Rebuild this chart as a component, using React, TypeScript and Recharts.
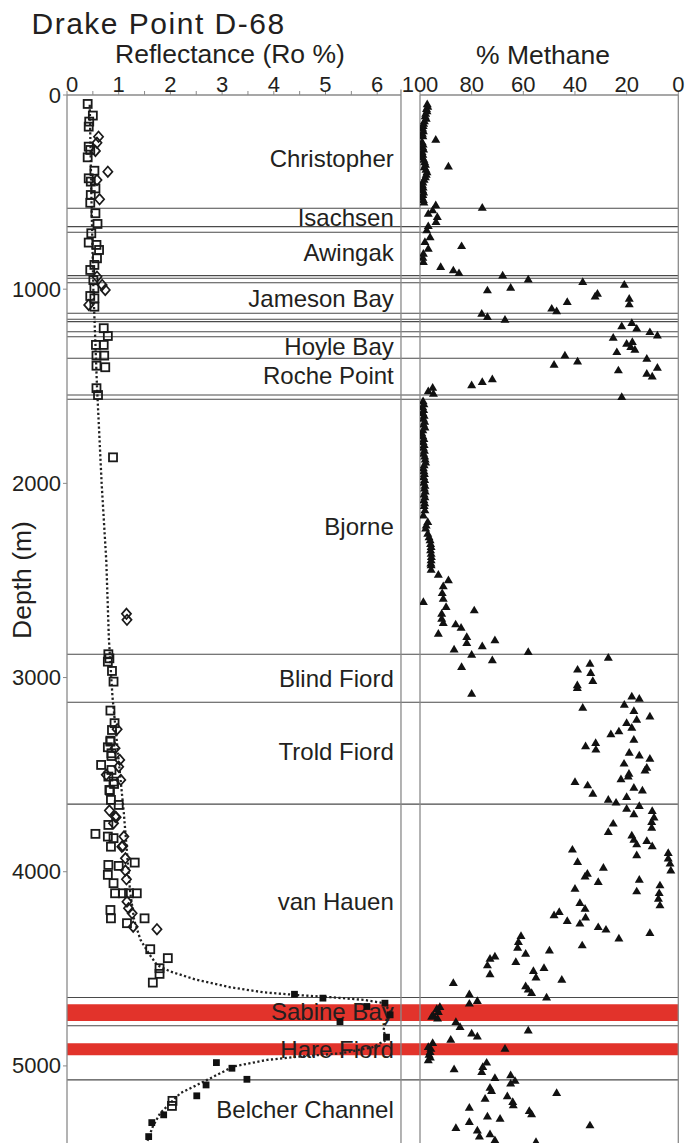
import React from 'react';
import { ScatterChart, Scatter, XAxis, YAxis, ReferenceLine, ReferenceArea } from 'recharts';

// ---------- data ----------
const depthTicks = [0, 1000, 2000, 3000, 4000, 5000];
const roTicks = [0, 0.5, 1, 1.5, 2, 2.5, 3, 3.5, 4, 4.5, 5, 5.5, 6];
const methaneTicks = [100, 80, 60, 40, 20, 0];

const formationNames = ['Christopher', 'Isachsen', 'Awingak', 'Jameson Bay', 'Hoyle Bay', 'Roche Point', 'Bjorne', 'Blind Fiord', 'Trold Fiord', 'van Hauen', 'Sabine Bay', 'Hare Fiord', 'Belcher Channel'];
const formationLabelDepths = [326, 630, 812, 1047, 1296, 1447, 2224, 3007, 3383, 4154, 4720, 4918, 5223];
const boundaryDepths = [583, 678, 707, 930, 944, 967, 1124, 1155, 1167, 1219, 1245, 1356, 1545, 1567, 2880, 3127, 3652, 4648, 4793, 5072];
const redBands: [number, number][] = [[4682, 4769], [4883, 4945]];

// [depth m, Ro %]
const roOpenSquares: [number, number][] = [
  [46, 0.40], [106, 0.50], [137, 0.43], [163, 0.42], [266, 0.42], [283, 0.45], [321, 0.40], [390, 0.53], [429, 0.42], [446, 0.46],
  [481, 0.55], [515, 0.46], [555, 0.45], [609, 0.55], [664, 0.59], [712, 0.47], [760, 0.42], [772, 0.57], [798, 0.62], [841, 0.58],
  [875, 0.53], [901, 0.45], [953, 0.51], [995, 0.53], [1035, 0.45], [1047, 0.53], [1090, 0.53], [1201, 0.71], [1241, 0.79], [1287, 0.56],
  [1287, 0.71], [1342, 0.57], [1342, 0.72], [1394, 0.57], [1402, 0.74], [1510, 0.57], [1545, 0.60], [1866, 0.89],
  [2880, 0.80], [2901, 0.82], [2918, 0.79], [2966, 0.87], [3021, 0.90], [3170, 0.84], [3235, 0.92], [3270, 0.87], [3325, 0.84], [3330, 0.84],
  [3359, 0.79], [3390, 0.86], [3404, 0.86], [3450, 0.66], [3476, 0.86], [3510, 0.80], [3536, 0.90], [3548, 0.91], [3579, 0.82], [3582, 0.83],
  [3630, 0.85], [3656, 1.00], [3759, 0.80], [3805, 0.55], [3819, 0.79], [3827, 0.90], [3871, 0.85], [3953, 1.31], [3965, 0.80], [3970, 1.00],
  [4016, 0.79], [4059, 0.90], [4111, 0.93], [4111, 1.08], [4111, 1.20], [4111, 1.35], [4197, 0.84], [4240, 0.85], [4265, 1.16], [4240, 1.50],
  [4399, 1.61], [4445, 1.95], [4497, 1.79], [4526, 1.79], [4571, 1.66], [5180, 2.04], [5206, 2.03],
];
const roDiamonds: [number, number][] = [
  [215, 0.61], [246, 0.58], [288, 0.55], [395, 0.79], [438, 0.58], [537, 0.63], [936, 0.58], [978, 0.68], [1004, 0.74], [1081, 0.42],
  [2672, 1.15], [2703, 1.16], [3266, 0.97], [3364, 0.93], [3424, 1.02], [3459, 1.00], [3501, 0.76], [3527, 1.04], [3685, 0.82], [3716, 0.93],
  [3719, 0.95], [3750, 0.90], [3819, 1.10], [3867, 1.08], [3871, 1.06], [3931, 1.13], [3994, 1.13], [4039, 1.15], [4154, 1.16], [4188, 1.19],
  [4214, 1.26], [4283, 1.28], [4296, 1.74],
];
const roFilledSquares: [number, number][] = [
  [4631, 4.40], [4651, 4.95], [4677, 6.15], [4694, 5.80], [4737, 6.25], [4772, 5.28], [4852, 6.18], [4983, 2.89], [5012, 3.19], [5069, 3.48],
  [5098, 2.69], [5154, 2.51], [5252, 1.87], [5292, 1.64], [5364, 1.58],
];
const roTrend: [number, number][] = [
  [50, 0.44], [500, 0.47], [1000, 0.51], [1500, 0.58], [2000, 0.67], [2400, 0.76], [2800, 0.81], [3100, 0.88], [3400, 0.99], [3700, 1.10],
  [3900, 1.16], [4100, 1.22], [4250, 1.30], [4350, 1.42], [4420, 1.58], [4480, 1.74], [4514, 2.0], [4557, 2.51], [4595, 3.16], [4621, 3.80],
  [4635, 4.45], [4646, 5.09], [4660, 5.74], [4677, 6.13], [4720, 6.25], [4763, 6.18], [4815, 6.12], [4866, 6.18], [4905, 5.9], [4935, 5.3],
  [4952, 4.5], [4969, 3.87], [5003, 3.22], [5072, 2.71], [5141, 2.19], [5244, 1.80], [5312, 1.66], [5390, 1.55],
];
// [depth m, % methane]
const methane: [number, number][] = [
  [45, 97.2], [58, 97.0], [70, 97.5], [82, 97.3], [95, 97.8], [108, 98.0], [120, 97.6], [133, 98.3], [146, 98.6], [158, 98.8], [171, 99.0],
  [184, 98.7], [197, 99.1], [210, 98.9], [228, 93.9], [240, 99.2], [253, 98.8], [266, 99.0], [279, 98.6], [292, 99.2], [305, 98.9], [318, 99.1],
  [331, 98.5], [344, 98.2], [357, 97.9], [366, 89.0], [370, 98.3], [383, 97.7], [396, 97.3], [409, 97.6], [422, 97.9], [435, 98.4], [448, 98.9],
  [461, 99.1], [474, 98.8], [487, 99.0], [500, 98.6], [513, 98.9], [526, 99.2], [539, 98.7], [552, 98.5], [566, 93.9], [578, 75.9], [592, 95.1],
  [609, 96.8], [626, 93.3], [652, 93.8], [673, 96.8], [695, 97.4], [730, 96.1], [755, 98.1], [776, 83.9], [790, 96.8], [815, 98.7], [836, 98.9],
  [858, 98.7], [884, 92.0], [901, 87.1], [915, 84.9], [927, 68.0], [948, 58.1], [961, 37.0], [975, 20.9], [990, 64.9], [1004, 73.9], [1021, 31.3],
  [1035, 32.2], [1047, 19.0], [1064, 43.0], [1076, 19.0], [1098, 49.0], [1111, 47.1], [1124, 76.1], [1141, 73.9], [1155, 67.1], [1172, 18.0],
  [1189, 21.9], [1201, 16.1], [1219, 11.0], [1236, 8.1], [1248, 25.2], [1270, 17.8], [1279, 20.0], [1296, 18.4], [1310, 16.8], [1322, 23.8],
  [1339, 43.9], [1356, 12.2], [1370, 39.0], [1387, 48.1], [1402, 8.1], [1416, 23.2], [1433, 12.2], [1447, 10.1], [1462, 72.0], [1476, 75.9],
  [1493, 80.0], [1505, 95.1], [1523, 96.8], [1536, 94.8], [1553, 21.9],
  [1575, 98.8], [1590, 98.5], [1605, 99.0], [1620, 98.6], [1635, 98.9], [1650, 98.4], [1665, 98.7], [1680, 98.2], [1695, 98.6], [1710, 98.1],
  [1725, 98.9], [1740, 99.3], [1755, 98.9], [1770, 98.5], [1785, 98.8], [1800, 98.4], [1815, 98.7], [1830, 98.3], [1845, 98.6], [1860, 98.2],
  [1875, 98.0], [1891, 97.8], [1905, 98.4], [1920, 98.7], [1935, 98.5], [1950, 98.3], [1965, 98.6], [1980, 98.2], [1995, 98.5], [2010, 98.1],
  [2025, 98.3], [2040, 98.0], [2055, 98.4], [2070, 98.1], [2085, 98.5], [2100, 98.2], [2115, 98.4], [2137, 98.1], [2163, 98.7], [2197, 97.0],
  [2215, 97.6], [2231, 97.8], [2257, 97.0], [2275, 96.5], [2291, 96.1], [2310, 95.9], [2326, 95.7], [2343, 95.9], [2360, 95.7], [2377, 95.6],
  [2394, 95.7], [2410, 95.8], [2420, 95.7], [2443, 95.7],
  [2468, 92.9], [2497, 89.0], [2528, 91.0], [2563, 91.4], [2592, 91.0], [2609, 98.7], [2635, 89.9], [2652, 79.0], [2669, 91.6], [2695, 91.6],
  [2717, 91.0], [2724, 86.2], [2741, 84.1], [2772, 92.9], [2789, 81.9], [2806, 71.0], [2820, 81.9], [2837, 75.9], [2853, 86.8], [2866, 58.1],
  [2880, 80.0], [2896, 27.1], [2909, 72.0], [2927, 34.2], [2944, 83.9], [2957, 39.0], [2974, 33.9], [3016, 33.1], [3038, 39.1], [3052, 39.1],
  [3081, 80.0], [3095, 18.0], [3107, 15.1], [3138, 20.9], [3153, 37.0], [3170, 17.2], [3198, 11.0], [3215, 16.1], [3232, 20.0], [3256, 18.0],
  [3275, 23.0], [3290, 26.1], [3318, 17.2], [3335, 32.0], [3352, 35.9], [3369, 31.9], [3385, 19.0], [3399, 15.1], [3416, 11.0], [3441, 21.0],
  [3462, 12.2], [3476, 12.9], [3493, 19.1], [3507, 19.4], [3522, 22.2], [3536, 40.0], [3553, 35.1], [3565, 17.2], [3579, 13.9], [3596, 33.1],
  [3613, 20.0], [3627, 27.1], [3642, 24.1], [3659, 15.1], [3673, 20.0], [3685, 10.1], [3702, 17.2], [3719, 9.4], [3742, 10.3], [3750, 25.2],
  [3771, 10.3], [3793, 27.1], [3811, 18.0], [3833, 17.2], [3840, 12.2], [3857, 16.1], [3867, 10.1], [3884, 41.0], [3901, 3.9], [3913, 16.1],
  [3930, 3.9], [3948, 39.0], [3956, 3.2], [3977, 29.0], [3991, 2.9], [4008, 35.2], [4022, 36.1], [4039, 15.1], [4051, 31.0], [4068, 7.1],
  [4085, 40.0], [4099, 16.1], [4108, 7.4], [4137, 7.7], [4159, 38.1], [4171, 7.1], [4188, 36.1], [4205, 46.1], [4222, 48.1], [4234, 35.9],
  [4252, 43.0], [4265, 38.1], [4283, 31.0], [4296, 28.0], [4313, 11.0], [4329, 60.9], [4342, 23.0], [4360, 61.9], [4377, 37.2], [4389, 62.2],
  [4403, 49.9], [4420, 59.1], [4434, 71.0], [4446, 72.9], [4463, 62.9], [4480, 73.9], [4494, 52.0], [4509, 56.1], [4526, 72.9], [4543, 55.1],
  [4554, 45.1], [4571, 87.1], [4588, 59.1], [4605, 58.1], [4622, 56.8], [4629, 80.9], [4646, 51.0], [4664, 77.8], [4677, 80.9], [4694, 92.3],
  [4705, 93.5], [4720, 92.9], [4737, 94.9], [4745, 95.5], [4754, 93.2], [4772, 86.1], [4797, 84.5], [4815, 58.1], [4831, 80.0], [4846, 77.8],
  [4863, 88.1], [4880, 95.1], [4900, 96.8], [4909, 67.1], [4910, 95.8], [4926, 96.1], [4940, 96.5], [4955, 96.0], [4969, 96.8], [4981, 74.2],
  [5003, 75.7], [5015, 86.8], [5029, 76.1], [5046, 64.9], [5060, 71.0], [5075, 63.2], [5089, 64.9], [5110, 72.9], [5127, 72.3], [5137, 47.1],
  [5154, 66.2], [5167, 74.8], [5184, 64.1], [5201, 63.9], [5213, 80.9], [5230, 57.7], [5247, 56.8], [5258, 73.9], [5270, 69.0], [5287, 80.9],
  [5304, 34.2], [5318, 86.1], [5330, 77.8], [5350, 72.9], [5361, 77.0], [5381, 71.0], [5390, 55.1],
];

// ---------- layout constants ----------
const W = 689;
const H = 1143;
const DEPTH_MAX = 5397;
const RO_MAX = 11.824; // Ro value at right edge of the full plot area
const RO_PANEL_END = 6.46; // Ro value where the left panel ends
const LABEL_X_RO = 6.32;
const FONT = '"Liberation Sans", Arial, Helvetica, sans-serif';
const INK = '#231f20';
const AXIS = '#8a8a8a';

const toXY = (arr: [number, number][]) => arr.map(([d, v]) => ({ x: v, y: d }));

const RoTick = (p: any) => {
  const v = p.payload.value;
  if (Math.abs(v - Math.round(v)) > 1e-6) return <g />;
  return (
    <text x={p.x + (v === 0 ? 5 : 0)} y={p.y + 3} textAnchor="middle" fontSize={22} fontFamily={FONT} fill={INK}>
      {v}
    </text>
  );
};
const MethTick = (p: any) => (
  <text x={p.x} y={p.y + 3} textAnchor="middle" fontSize={22} fontFamily={FONT} fill={INK}>
    {p.payload.value}
  </text>
);
const DepthTick = (p: any) => (
  <text x={p.x} y={p.y} textAnchor="end" dominantBaseline="central" fontSize={22} fontFamily={FONT} fill={INK}>
    {p.payload.value}
  </text>
);

const OpenSquare = (p: any) => (
  <rect x={p.cx - 4} y={p.cy - 4} width={8} height={8} fill="none" stroke="#1a1a1a" strokeWidth={1.8} />
);
const OpenDiamond = (p: any) => (
  <path d={`M${p.cx},${p.cy - 5.2} L${p.cx + 4.6},${p.cy} L${p.cx},${p.cy + 5.2} L${p.cx - 4.6},${p.cy} Z`} fill="none" stroke="#1a1a1a" strokeWidth={1.7} />
);
const FilledSquare = (p: any) => <rect x={p.cx - 3.4} y={p.cy - 3.4} width={6.8} height={6.8} fill="#111" />;
const Triangle = (p: any) => (
  <path d={`M${p.cx},${p.cy - 4.3} L${p.cx + 4.5},${p.cy + 3.4} L${p.cx - 4.5},${p.cy + 3.4} Z`} fill="#111" />
);
const NoDot = () => <g />;
const FormationLabel = (p: any) => (
  <text x={p.cx} y={p.cy} textAnchor="end" dominantBaseline="central" fontSize={24} fontFamily={FONT} fill={INK}>
    {p.payload.name}
  </text>
);

export default function App() {
  const labelData = formationNames.map((name, i) => ({ x: LABEL_X_RO, y: formationLabelDepths[i], name }));
  return (
    <div style={{ position: 'absolute', left: 0, top: 0, width: W, height: H, background: '#fff', overflow: 'hidden' }}>
      <div style={{ position: 'absolute', left: 0, top: 0 }}>
        <ScatterChart width={W} height={H} margin={{ top: 55, right: 10.7, bottom: 0, left: 0 }}>
          <XAxis xAxisId="ro" type="number" dataKey="x" orientation="top" domain={[0, RO_MAX]} ticks={roTicks} interval={0}
            axisLine={false} tickLine={{ stroke: AXIS }} tickSize={4} height={40} tick={RoTick} allowDataOverflow />
          <YAxis yAxisId="d" type="number" dataKey="y" reversed domain={[0, DEPTH_MAX]} ticks={depthTicks} interval={0} width={67}
            axisLine={{ stroke: AXIS, strokeWidth: 1.3 }} tickLine={{ stroke: AXIS }} tickSize={4} tick={DepthTick} allowDataOverflow />
          {redBands.map(([a, b], i) => (
            <ReferenceArea key={'band' + i} xAxisId="ro" yAxisId="d" y1={a} y2={b} fill="#e2332b" fillOpacity={1} stroke="none" ifOverflow="visible" />
          ))}
          {boundaryDepths.map((d, i) => (
            <ReferenceLine key={'b' + i} xAxisId="ro" yAxisId="d" y={d} stroke="#4a4a4a" strokeWidth={1.1} />
          ))}
          <ReferenceLine xAxisId="ro" yAxisId="d" segment={[{ x: 0, y: 0 }, { x: RO_PANEL_END, y: 0 }]} stroke={AXIS} strokeWidth={1.3} ifOverflow="visible" />
          <ReferenceLine xAxisId="ro" yAxisId="d" segment={[{ x: RO_PANEL_END, y: -28 }, { x: RO_PANEL_END, y: DEPTH_MAX }]} stroke={AXIS} strokeWidth={1.3} ifOverflow="visible" />
          <Scatter xAxisId="ro" yAxisId="d" data={labelData} shape={FormationLabel} isAnimationActive={false} />
          <Scatter xAxisId="ro" yAxisId="d" data={toXY(roTrend)} shape={NoDot} line={{ stroke: '#222', strokeWidth: 2.3, strokeDasharray: '2.2 2.4' }} lineType="joint" isAnimationActive={false} />
          <Scatter xAxisId="ro" yAxisId="d" data={toXY(roOpenSquares)} shape={OpenSquare} isAnimationActive={false} />
          <Scatter xAxisId="ro" yAxisId="d" data={toXY(roDiamonds)} shape={OpenDiamond} isAnimationActive={false} />
          <Scatter xAxisId="ro" yAxisId="d" data={toXY(roFilledSquares)} shape={FilledSquare} isAnimationActive={false} />
        </ScatterChart>
      </div>
      <div style={{ position: 'absolute', left: 0, top: 0 }}>
        <ScatterChart width={W} height={H} margin={{ top: 55, right: 10.7, bottom: 0, left: 420 }}>
          <XAxis xAxisId="m" type="number" dataKey="x" orientation="top" domain={[0, 100]} reversed ticks={methaneTicks} interval={0}
            axisLine={{ stroke: AXIS, strokeWidth: 1.3 }} tickLine={{ stroke: AXIS }} tickSize={4} height={40} tick={MethTick} allowDataOverflow />
          <YAxis yAxisId="d" type="number" dataKey="y" reversed domain={[0, DEPTH_MAX]} hide width={0} allowDataOverflow />
          <ReferenceLine xAxisId="m" yAxisId="d" x={100} stroke={AXIS} strokeWidth={1.3} />
          <ReferenceLine xAxisId="m" yAxisId="d" x={0} stroke={AXIS} strokeWidth={1.3} />
          <Scatter xAxisId="m" yAxisId="d" data={toXY(methane)} shape={Triangle} isAnimationActive={false} />
        </ScatterChart>
      </div>
      <svg width={W} height={H} style={{ position: 'absolute', left: 0, top: 0, pointerEvents: 'none' }}>
        <text x={31.5} y={34} fontSize={30} letterSpacing={1.5} fontFamily={FONT} fill={INK}>Drake Point D-68</text>
        <text x={230} y={63} textAnchor="middle" fontSize={26.5} fontFamily={FONT} fill={INK}>Reflectance (Ro %)</text>
        <text x={543} y={64} textAnchor="middle" fontSize={26.5} fontFamily={FONT} fill={INK}>% Methane</text>
        <text transform="translate(31,580) rotate(-90)" textAnchor="middle" fontSize={26.5} fontFamily={FONT} fill={INK}>Depth (m)</text>
      </svg>
    </div>
  );
}
